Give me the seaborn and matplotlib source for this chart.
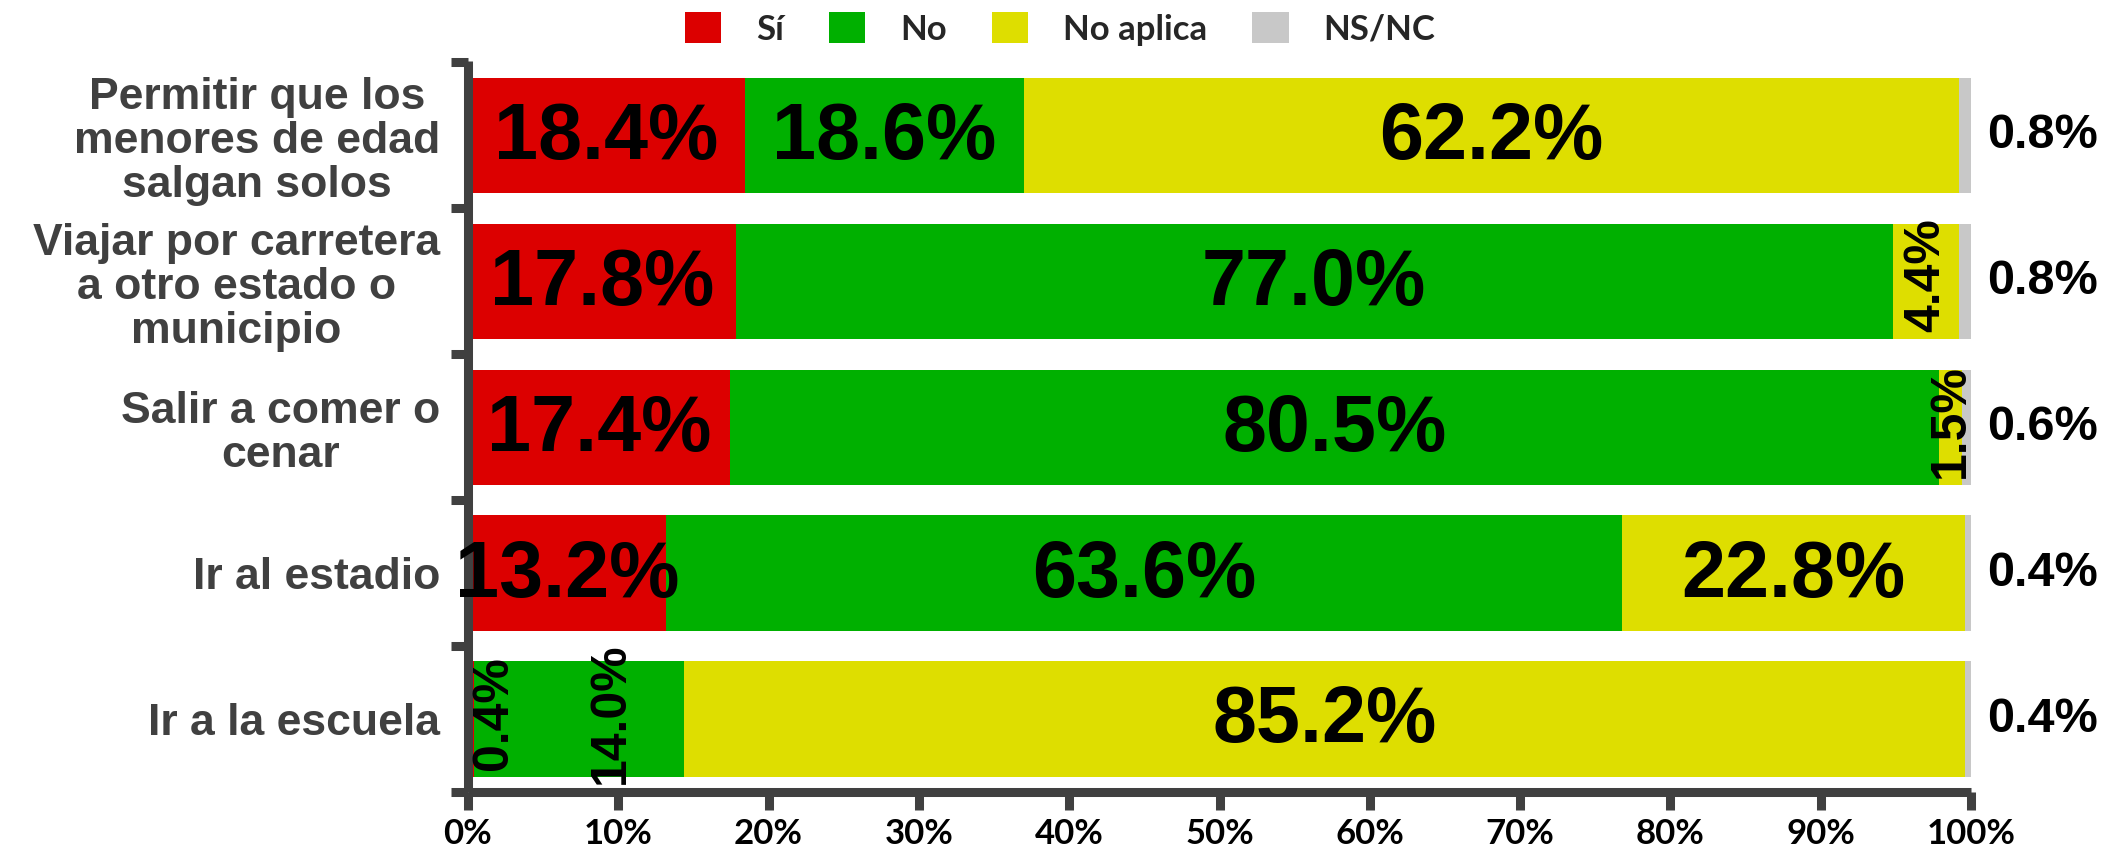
import matplotlib
matplotlib.use("Agg")
import matplotlib.pyplot as plt
from matplotlib.patches import Patch
import seaborn as sns
import pandas as pd
import numpy as np

# ---- data ----
categories = [
    "Permitir que los\nmenores de edad\nsalgan solos",
    "Viajar por carretera\na otro estado o\nmunicipio",
    "Salir a comer o\ncenar",
    "Ir al estadio",
    "Ir a la escuela",
]
series_names = ["Sí", "No", "No aplica", "NS/NC"]
si = [18.4, 17.8, 17.4, 13.2, 0.4]
no = [18.6, 77.0, 80.5, 63.6, 14.0]
no_aplica = [62.2, 4.4, 1.5, 22.8, 85.2]
ns_nc = [0.8, 0.8, 0.6, 0.4, 0.4]
x_ticks = [0, 10, 20, 30, 40, 50, 60, 70, 80, 90, 100]

colors = ["#DC0000", "#00B000", "#DEDE00", "#C8C8C8"]

sns.set_theme(style="white")
plt.rcParams["font.family"] = ["Liberation Sans", "DejaVu Sans"]

values = np.array([si, no, no_aplica, ns_nc])  # series x categories
cum = np.cumsum(values, axis=0)
df = pd.DataFrame({"cat": categories})
for k, name in enumerate(series_names):
    df[name] = cum[k]

W, H = 2117, 855
fig = plt.figure(figsize=(W / 100, H / 100), dpi=100)
ax = fig.add_axes([468 / W, 0.0737, (1971 - 468) / W, 0.855])

# stacked bars drawn by overlaying cumulative totals (largest first)
for k in range(len(series_names) - 1, -1, -1):
    sns.barplot(data=df, x=series_names[k], y="cat", orient="h",
                color=colors[k], saturation=1, width=0.79, errorbar=None,
                ax=ax, linewidth=0)

ax.set_xlim(0, 100)
ax.set_ylim(4.5, -0.51)
ax.set_xlabel("")
ax.set_ylabel("")

# value labels (small segments get vertical labels)
rotated = {(1, 2), (2, 2), (4, 0), (4, 1)}
nudge = {(4, 0): 1.5, (4, 1): 2.1}
for i in range(len(categories)):
    left = 0.0
    for k in range(3):
        v = values[k][i]
        xc = left + v / 2 + nudge.get((i, k), 0)
        if (i, k) in rotated:
            ax.text(xc, i - 0.04, f"{v:.1f}%", rotation=90, ha="center", va="center",
                    fontsize=36, fontweight="bold", color="black")
        else:
            ax.text(xc, i + 0.02, f"{v:.1f}%", ha="center", va="center",
                    fontsize=57, fontweight="bold", color="black")
        left += v
    ax.text(101.1, i, f"{values[3][i]:.1f}%", ha="left", va="center",
            fontsize=35, fontweight="bold", color="black", clip_on=False)

# axes styling
spine_col = "#404040"
for s in ["top", "right"]:
    ax.spines[s].set_visible(False)
for s in ["left", "bottom"]:
    ax.spines[s].set_color(spine_col)
    ax.spines[s].set_linewidth(6.5)
    ax.spines[s].set_capstyle("butt")

ax.set_xticks(x_ticks)
ax.set_xticklabels([f"{t}%" for t in x_ticks], fontsize=25,
                   fontweight="bold", family=["Lato", "DejaVu Sans"], color="black")
ax.tick_params(axis="x", direction="out", length=13, width=6.5, color=spine_col,
               pad=6, bottom=True)

ax.set_yticks(range(len(categories)))
ax.set_yticklabels(categories, fontsize=32, fontweight="bold", color="#404040",
                   linespacing=1.1)
for lab in ax.get_yticklabels():
    lab.set_multialignment("center")
ax.tick_params(axis="y", which="major", length=0, pad=20)
ax.set_yticks([-0.5, 0.5, 1.5, 2.5, 3.5, 4.5], minor=True)
ax.tick_params(axis="y", which="minor", direction="out", length=12, width=6.5,
               color=spine_col, left=True)

# legend
handles = [Patch(facecolor=c, edgecolor="none") for c in colors]
fig.legend(handles, series_names, loc="center", bbox_to_anchor=(0.5007, 0.966),
           ncol=4, frameon=False, handlelength=1.05, handleheight=1.0,
           handletextpad=1.0, columnspacing=1.3,
           prop={"family": ["Lato", "DejaVu Sans"], "weight": "bold", "size": 25})

fig.savefig("out.png", dpi=100)
